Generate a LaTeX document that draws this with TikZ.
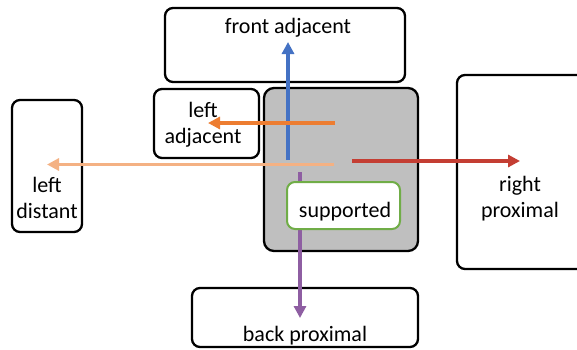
\documentclass[tikz,border=0pt]{standalone}
\usepackage{fontspec}
\setmainfont{Carlito}
\usetikzlibrary{
    arrows.meta,
    positioning
}

\definecolor{frontblue}{HTML}{4472C4}
\definecolor{adjorange}{HTML}{ED7D31}
\definecolor{distorange}{HTML}{F4B183}
\definecolor{proxred}{HTML}{C43E33}
\definecolor{backpurple}{HTML}{8E5EA2}
\definecolor{suppgreen}{HTML}{70AD47}
\definecolor{blockgray}{HTML}{BFBFBF}

\begin{document}
\begin{tikzpicture}[
        x=1pt, y=-1pt,
        font=\fontsize{22}{25.5}\selectfont,
        box/.style={
            rectangle,
            rounded corners=8pt,
            draw,
            line width=2.3pt,
            fill=white,
            inner sep=0pt
        },
        lbl/.style={
            align=center,
            inner sep=0pt,
            anchor=base
        },
        line/.style={
            -{Triangle[length=12pt,width=12pt]},
            line width=3.4pt
        }
    ]

    \useasboundingbox (0,0) rectangle (577,349);

    % surrounding regions
    \node[box, minimum width=240pt, minimum height=74pt] (front) at (285,45) {};
    \node[box, minimum width=105pt, minimum height=69pt] (leftadj) at (206.5,123.5) {};
    \node[box, minimum width=70pt, minimum height=132pt] (leftdist) at (47,166) {};
    \node[box, minimum width=183pt, minimum height=194pt] (rightprox) at (548.5,172) {};
    \node[box, minimum width=226pt, minimum height=59pt] (backprox) at (305,317.5) {};

    % the block in the middle
    \node[box, fill=blockgray, rounded corners=10pt,
        minimum width=154pt, minimum height=163pt] (block) at (341,169.5) {};

    % base sits on the last line
    \node[lbl] (front-txt) at (288,33) {front adjacent};
    \node[lbl] (leftadj-txt) at (203,143) {left\\adjacent};
    \node[lbl] (leftdist-txt) at (47,218) {left\\distant};
    \node[lbl] (rightprox-txt) at (520,217) {right\\proximal};
    \node[lbl] (backprox-txt) at (305,341) {back proximal};

    % arrow ends
    \coordinate (from-front) at (288,160);
    \coordinate (to-front) at (288,42);
    \coordinate (from-leftadj) at (335,123);
    \coordinate (to-leftadj) at (208,123);
    \coordinate (from-leftdist) at (334,164.5);
    \coordinate (to-leftdist) at (47,164.5);
    \coordinate (from-right) at (352,161);
    \coordinate (to-right) at (520,161);
    \coordinate (from-back) at (300,172);
    \coordinate (to-back) at (300,318);

    \draw[line, frontblue] (from-front) -- (to-front);
    \draw[line, adjorange] (from-leftadj) -- (to-leftadj);
    \draw[line, distorange] (from-leftdist) -- (to-leftdist);
    \draw[line, proxred] (from-right) -- (to-right);
    \draw[line, backpurple] (from-back) -- (to-back);

    % supported object sits on top
    \node[box, draw=suppgreen, line width=2pt,
        minimum width=113pt, minimum height=47pt] (supp) at (343.5,205.5) {};
    \node[lbl] (supp-txt) at (345,217) {supported};

\end{tikzpicture}
\end{document}
